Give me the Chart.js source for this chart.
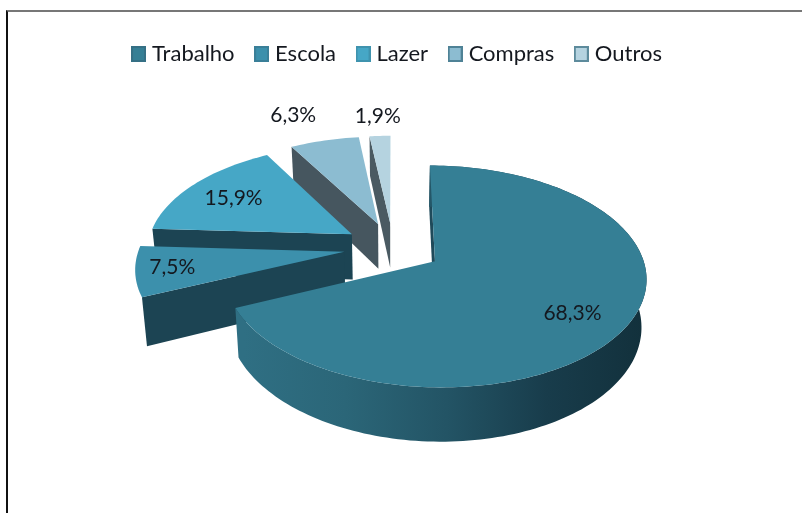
<!DOCTYPE html>
<html>
<head>
<meta charset="utf-8">
<title>Motivo das viagens</title>
<script src="https://cdn.jsdelivr.net/npm/chart.js@4/dist/chart.umd.js"></script>
<style>
    html, body { margin: 0; padding: 0; background: #fff; overflow: hidden; }
    #wrap { position: relative; width: 802px; height: 513px; }
    #frame { position: absolute; left: 6px; top: 10px; right: 0; bottom: 0; border-left: 2px solid #111; border-top: 2px solid #777; }
    #chart { position: absolute; left: 0; top: 0; filter: blur(0.4px); }
</style>
</head>
<body>
<div id="wrap">
    <div id="frame"></div>
    <canvas id="chart" width="802" height="513"></canvas>
</div>
<script>
// Data
const categories = ['Trabalho', 'Escola', 'Lazer', 'Compras', 'Outros'];
const percentages = [68.3, 7.5, 15.9, 6.3, 1.9];
const percentLabels = ['68,3%', '7,5%', '15,9%', '6,3%', '1,9%'];

// Colours
const topColors = ['#357f95', '#3c90ac', '#46a7c6', '#8cbcd1', '#b5d3e0'];
const faceColors = ['#1f4a5a', '#1c4453', '#1c4453', '#46565f', '#4a5a62'];
const legendBorders = ['#357085', '#3a7f98', '#3f93ae', '#4f8296', '#5d8b9c'];
const rimStops = ['#2f6f83', '#2b6678', '#235465', '#183c4b', '#12303b'];

// Shape of the tilted pie, in pixels
const pieWidth = 205;
const pieHeight = 105;
const pieDepth = 46;
const pieShiftX = -6;
const perspective = 0.135;
const bottomShrink = 0.98;
const explodePercent = 24;

// Where each percent label sits: fraction of the radius, then a nudge in pixels
const labelRadius = [0.78, 0.84, 0.66, 1.2, 1.02];
const labelNudgeX = [-10, 3, -12, -22, -2];
const labelNudgeY = [3, -1, -2, -11, -18];

function project(arc, u, v, low) {
    const s = 1 / (1 - perspective * v);
    let x = u * pieWidth * s;
    let y = v * pieHeight * s;
    if (low) {
        x = x * bottomShrink;
        y = y + pieDepth * s;
    }
    return { x: arc.x + pieShiftX + x, y: arc.y + y };
}

function slicePoint(arc, angle, radius, low) {
    const mid = (arc.startAngle + arc.endAngle) / 2;
    const e = (arc.options.offset || 0) / 100;
    const u = Math.cos(mid) * e + Math.cos(angle) * radius;
    const v = Math.sin(mid) * e + Math.sin(angle) * radius;
    return project(arc, u, v, low);
}

function fillPoints(ctx, points, style) {
    ctx.beginPath();
    points.forEach(function(p, i) {
        if (i === 0) ctx.moveTo(p.x, p.y); else ctx.lineTo(p.x, p.y);
    });
    ctx.closePath();
    ctx.fillStyle = style;
    ctx.fill();
}

function drawSlice(ctx, arc, index) {
    const steps = Math.max(8, Math.round((arc.endAngle - arc.startAngle) * 40));
    const top = [];
    const low = [];
    for (let i = 0; i <= steps; i++) {
        const a = arc.startAngle + (arc.endAngle - arc.startAngle) * i / steps;
        top.push(slicePoint(arc, a, 1, false));
        low.push(slicePoint(arc, a, 1, true));
    }
    const apex = slicePoint(arc, 0, 0, false);
    const apexLow = slicePoint(arc, 0, 0, true);

    // Only the cut face at the start angle can be seen from the front
    fillPoints(ctx, [apex, top[0], low[0], apexLow], faceColors[index]);

    // Outer wall, only the big slice shows one
    if (index === 0) {
        const rim = ctx.createLinearGradient(arc.x - 155, 0, arc.x + 250, 0);
        rimStops.forEach(function(c, i) { rim.addColorStop(i / (rimStops.length - 1), c); });
        fillPoints(ctx, top.concat(low.slice().reverse()), rim);
    }

    // Top surface
    fillPoints(ctx, [apex].concat(top), arc.options.backgroundColor);
}

// Back slices first, so the big one covers the ones behind it
Chart.PieController.prototype.draw = function() {
    const ctx = this.chart.ctx;
    const arcs = this.getMeta().data;
    for (let i = arcs.length - 1; i >= 0; i--) {
        drawSlice(ctx, arcs[i], i);
    }
};

const percentLabelPlugin = {
    id: 'percentLabels',
    afterDatasetsDraw: function(chart) {
        const ctx = chart.ctx;
        const arcs = chart.getDatasetMeta(0).data;
        ctx.save();
        ctx.font = '21px Lato';
        ctx.fillStyle = '#14181f';
        ctx.textAlign = 'center';
        ctx.textBaseline = 'middle';
        arcs.forEach(function(arc, i) {
            const mid = (arc.startAngle + arc.endAngle) / 2;
            const p = slicePoint(arc, mid, labelRadius[i], false);
            ctx.fillText(percentLabels[i], p.x + labelNudgeX[i], p.y + labelNudgeY[i]);
        });
        ctx.restore();
    }
};

function legendMarker(fill, border) {
    const c = document.createElement('canvas');
    c.width = 15;
    c.height = 16;
    const g = c.getContext('2d');
    g.fillStyle = fill;
    g.fillRect(0, 0, 15, 16);
    g.strokeStyle = border;
    g.lineWidth = 2;
    g.strokeRect(1, 1, 13, 14);
    return c;
}

const legendMarkers = topColors.map(function(c, i) { return legendMarker(c, legendBorders[i]); });

new Chart(document.getElementById('chart'), {
    type: 'pie',
    plugins: [percentLabelPlugin],
    data: {
        labels: categories,
        datasets: [{
            data: percentages,
            backgroundColor: topColors,
            borderWidth: 0,
            offset: explodePercent
        }]
    },
    options: {
        responsive: false,
        animation: false,
        layout: { padding: { left: 0, right: 4, top: 18.5, bottom: 93.5 } },
        plugins: {
            tooltip: { enabled: false },
            legend: {
                position: 'top',
                labels: {
                    usePointStyle: true,
                    pointStyleWidth: 5,
                    padding: 24.5,
                    color: '#14181f',
                    font: { family: 'Lato', size: 22 },
                    generateLabels: function(chart) {
                        return categories.map(function(text, i) {
                            return {
                                text: text,
                                fontColor: '#14181f',
                                pointStyle: legendMarkers[i],
                                hidden: false,
                                index: i,
                                lineWidth: 0
                            };
                        });
                    }
                }
            }
        }
    }
});
</script>
</body>
</html>
